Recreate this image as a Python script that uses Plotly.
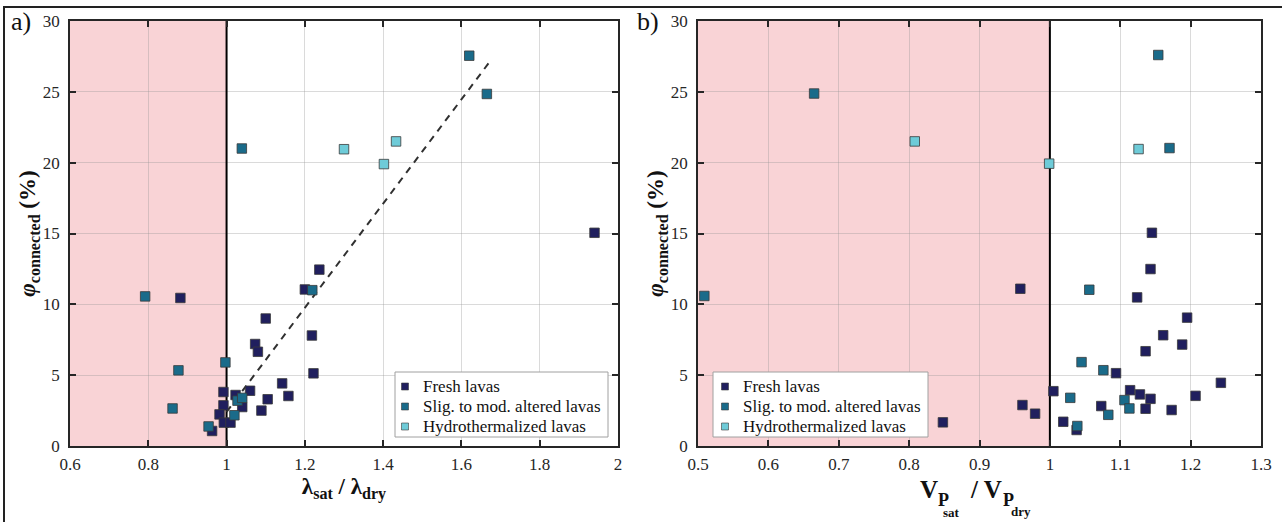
import plotly.graph_objects as go

# ---------------- data: panel a (lambda_sat / lambda_dry) ----------------
a_fresh_x = [0.882, 1.940, 1.237, 1.200, 1.100, 1.218, 1.073, 1.080, 1.222, 1.142, 1.060,
             1.158, 1.105, 0.992, 1.023, 0.992, 1.040, 1.089, 0.982, 0.993, 1.010, 0.963]
a_fresh_y = [10.45, 15.05, 12.45, 11.05, 9.00, 7.80, 7.20, 6.65, 5.13, 4.42, 3.90,
             3.53, 3.30, 3.81, 3.60, 2.87, 2.75, 2.50, 2.23, 1.65, 1.65, 1.06]
a_alt_x = [1.620, 1.665, 1.039, 0.792, 1.219, 0.997, 0.877, 0.862, 0.954, 1.020, 1.028, 1.040]
a_alt_y = [27.55, 24.85, 21.00, 10.56, 11.00, 5.90, 5.34, 2.65, 1.38, 2.17, 3.20, 3.40]
a_hyd_x = [1.300, 1.402, 1.433]
a_hyd_y = [20.95, 19.90, 21.50]
fit_x = [1.000, 1.677]
fit_y = [2.40, 27.30]

# ---------------- data: panel b (Vp_sat / Vp_dry) ----------------
b_fresh_x = [0.848, 0.958, 0.961, 0.979, 1.005, 1.019, 1.038, 1.073, 1.094, 1.114, 1.128, 1.143,
             1.136, 1.173, 1.136, 1.161, 1.188, 1.195, 1.124, 1.143, 1.145, 1.207, 1.243]
b_fresh_y = [1.67, 11.10, 2.89, 2.28, 3.87, 1.71, 1.13, 2.82, 5.14, 3.94, 3.64, 3.33,
             2.63, 2.54, 6.69, 7.82, 7.16, 9.06, 10.49, 12.49, 15.05, 3.54, 4.46]
b_alt_x = [1.154, 0.665, 1.170, 0.509, 1.056, 1.045, 1.076, 1.029, 1.106, 1.113, 1.083, 1.039]
b_alt_y = [27.60, 24.88, 21.03, 10.59, 11.03, 5.92, 5.35, 3.40, 3.24, 2.65, 2.20, 1.41]
b_hyd_x = [0.808, 0.999, 1.126]
b_hyd_y = [21.50, 19.93, 20.96]

threshold = 1.0
y_range = [0, 30]
y_ticks = [0, 5, 10, 15, 20, 25, 30]
a_ticks = [0.6, 0.8, 1, 1.2, 1.4, 1.6, 1.8, 2]
a_ticktext = ["0.6", "0.8", "1", "1.2", "1.4", "1.6", "1.8", "2"]
b_ticks = [0.5, 0.6, 0.7, 0.8, 0.9, 1, 1.1, 1.2, 1.3]
b_ticktext = ["0.5", "0.6", "0.7", "0.8", "0.9", "1", "1.1", "1.2", "1.3"]

names = ["Fresh lavas", "Slig. to mod. altered lavas", "Hydrothermalized lavas"]
colors = ["#201f5e", "#1a6b8a", "#6ecbd8"]

W, H = 1282, 522
FONT = "Liberation Serif, Times New Roman, serif"
INK = "#262626"
EDGE = "#3a3a3a"

fig = go.Figure()

def add_series(xs, ys, name, color, xa, ya):
    fig.add_trace(go.Scatter(
        x=xs, y=ys, mode="markers", name=name, xaxis=xa, yaxis=ya, showlegend=False,
        marker=dict(symbol="square", size=9.5, color=color, line=dict(color=EDGE, width=0.8)),
    ))

for xa, ya in [("x", "y"), ("x2", "y2")]:
    fig.add_trace(go.Scatter(x=[threshold, threshold], y=y_range, mode="lines", showlegend=False,
                             xaxis=xa, yaxis=ya, hoverinfo="skip",
                             line=dict(color="black", width=2)))

fig.add_trace(go.Scatter(x=fit_x, y=fit_y, mode="lines", showlegend=False,
                         xaxis="x", yaxis="y",
                         line=dict(color="#303030", width=2, dash="7px,6px")))

for xs, ys, n, c in zip([a_fresh_x, a_alt_x, a_hyd_x], [a_fresh_y, a_alt_y, a_hyd_y], names, colors):
    add_series(xs, ys, n, c, "x", "y")
for xs, ys, n, c in zip([b_fresh_x, b_alt_x, b_hyd_x], [b_fresh_y, b_alt_y, b_hyd_y], names, colors):
    add_series(xs, ys, n, c, "x2", "y2")

def px(x):
    return x / W
def py(y):
    return 1 - y / H

xa_dom = [px(70), px(618)]
xb_dom = [px(698), px(1261)]
y_dom = [py(446), py(21)]

def axis_common(standoff):
    return dict(
        showline=True, linecolor=INK, linewidth=1.5, mirror="ticks",
        ticks="inside", ticklen=6, tickwidth=1.5, tickcolor=INK,
        showgrid=True, gridcolor="rgba(150,150,150,0.35)", gridwidth=1,
        zeroline=False, automargin=False, ticklabelstandoff=standoff,
        tickfont=dict(family=FONT, size=17, color=INK),
    )

title_font = dict(family=FONT, size=23, color="#111")

fig.update_layout(
    template="none",
    width=W, height=H,
    margin=dict(l=0, r=0, t=0, b=0, autoexpand=False),
    paper_bgcolor="white", plot_bgcolor="white",
    font=dict(family=FONT),
    showlegend=False,
    xaxis=dict(domain=xa_dom, range=[0.6, 2.0], tickvals=a_ticks, ticktext=a_ticktext, anchor="y",
               title=dict(text="<b>λ<sub>sat</sub> / λ<sub>dry</sub></b>", font=title_font, standoff=5),
               **axis_common(2)),
    yaxis=dict(domain=y_dom, range=y_range, tickvals=y_ticks, anchor="x",
               title=dict(text="<b><i>φ</i><sub>connected</sub> (%)</b>", font=title_font, standoff=0),
               **axis_common(5)),
    xaxis2=dict(domain=xb_dom, range=[0.5, 1.3], tickvals=b_ticks, ticktext=b_ticktext,
                anchor="y2", **axis_common(2)),
    yaxis2=dict(domain=y_dom, range=y_range, tickvals=y_ticks, anchor="x2",
                title=dict(text="<b><i>φ</i><sub>connected</sub> (%)</b>", font=title_font, standoff=0),
                **axis_common(5)),
)

shapes = []
shapes.append(dict(type="rect", xref="x", yref="y domain", x0=0.6, x1=threshold, y0=0, y1=1,
                   fillcolor="#f9d3d6", line=dict(width=0), layer="below"))
shapes.append(dict(type="rect", xref="x2", yref="y2 domain", x0=0.5, x1=threshold, y0=0, y1=1,
                   fillcolor="#f9d3d6", line=dict(width=0), layer="below"))
shapes.append(dict(type="rect", xref="paper", yref="paper", x0=px(4), x1=1.02, y0=-0.05, y1=py(7),
                   line=dict(color="#222", width=2), fillcolor="rgba(0,0,0,0)", layer="above"))

# legends (one box per panel, swatches + labels from names/colors)
legend_boxes = [(395, 608, 405), (713, 928, 725)]  # (left, right, swatch centre x) in px
for left, right, sx in legend_boxes:
    shapes.append(dict(type="rect", xref="paper", yref="paper", x0=px(left), x1=px(right),
                       y0=py(437), y1=py(372), fillcolor="white",
                       line=dict(color="#a0a0a0", width=1), layer="above"))
    for i, (n, c) in enumerate(zip(names, colors)):
        cy = 386.5 + 20 * i
        shapes.append(dict(type="rect", xref="paper", yref="paper",
                           x0=px(sx - 3.5), x1=px(sx + 3.5), y0=py(cy + 3.5), y1=py(cy - 3.5),
                           fillcolor=c, line=dict(color=EDGE, width=0.6), layer="above"))
        fig.add_annotation(text=n, xref="paper", yref="paper", x=px(sx + 16), y=py(cy),
                           xanchor="left", yanchor="middle", showarrow=False,
                           font=dict(family=FONT, size=17, color="#111"))
fig.update_layout(shapes=shapes)

# panel b x-axis title built from pieces (nested subscripts)
bt = [("<b>V</b>", 929, 489, 25), ("<b>P</b>", 943, 500, 18), ("<b>sat</b>", 951, 512, 13),
      ("<b>/ V</b>", 986, 489, 25), ("<b>P</b>", 1008, 500, 18), ("<b>dry</b>", 1021, 511, 13)]
for txt, xx, yy, sz in bt:
    fig.add_annotation(text=txt, xref="paper", yref="paper", x=px(xx), y=py(yy),
                       xanchor="center", yanchor="middle", showarrow=False,
                       font=dict(family=FONT, size=sz, color="#111"))

fig.add_annotation(text="a)", xref="paper", yref="paper", x=px(9), y=py(5), xanchor="left",
                   yanchor="top", showarrow=False, font=dict(family=FONT, size=26, color="#111"))
fig.add_annotation(text="b)", xref="paper", yref="paper", x=px(635), y=py(5), xanchor="left",
                   yanchor="top", showarrow=False, font=dict(family=FONT, size=26, color="#111"))

fig.write_html("out.html", config={"displayModeBar": False},
               post_script="document.body.style.margin='0';document.body.style.overflow='hidden';")
